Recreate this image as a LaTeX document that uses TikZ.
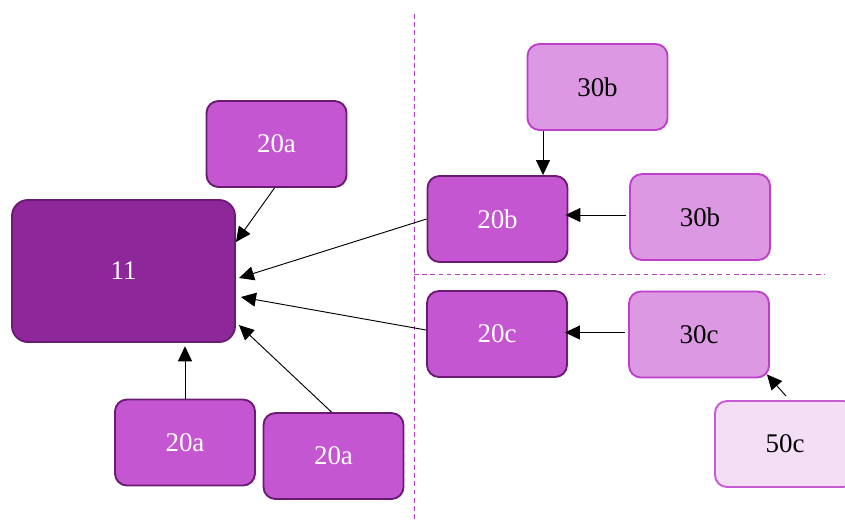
\documentclass[tikz,border=0pt]{standalone}
\usepackage{fontspec}
\setmainfont{Liberation Serif}
\usetikzlibrary{arrows.meta}

\definecolor{fill11}{RGB}{142,39,154}
\definecolor{line11}{RGB}{106,27,115}
\definecolor{fill20}{RGB}{197,86,210}
\definecolor{line20}{RGB}{107,27,116}
\definecolor{fill30}{RGB}{220,152,226}
\definecolor{line30}{RGB}{191,63,203}
\definecolor{fill50}{RGB}{244,222,246}
\definecolor{line50}{RGB}{200,90,211}
\definecolor{sepline}{RGB}{178,63,191}

\tikzset{
  box/.style={draw, line width=1.6pt, rounded corners=0.36cm, minimum width=4.2cm,
    minimum height=2.58cm, font=\fontsize{23}{26}\selectfont},
  lvl11/.style={box, fill=fill11, draw=line11, text=white, minimum width=6.69cm,
    minimum height=4.26cm, rounded corners=0.48cm},
  lvl20/.style={box, fill=fill20, draw=line20, text=white},
  lvl30/.style={box, fill=fill30, draw=line30, text=black},
  lvl50/.style={box, fill=fill50, draw=line50, text=black},
  arr/.style={line width=0.8pt, -{Triangle[length=0.45cm, width=0.42cm]}},
  sep/.style={sepline, line width=0.8pt, dash pattern=on 4pt off 3pt}
}

\begin{document}
\begin{tikzpicture}[x=0.03cm, y=-0.03cm]
	\useasboundingbox (0,0) rectangle (845,526);
	% separators
	\coordinate (vtop) at (414,14);
	\coordinate (vbot) at (414,522);
	\coordinate (hleft) at (414,274);
	\coordinate (hright) at (825,274);
	\draw[sep] (vtop) -- (vbot);
	\draw[sep] (hleft) -- (hright);
	% boxes
	\node[lvl11] (n11) at (123.5,271) {11};
	\node[lvl20] (n20a1) at (276.5,144) {20a};
	\node[lvl20] (n20a2) at (185,442.5) {20a};
	\node[lvl20] (n20a3) at (333.5,456) {20a};
	\node[lvl20] (n20b) at (497.5,219) {20b};
	\node[lvl20] (n20c) at (497,334) {20c};
	\node[lvl30] (n30b1) at (597.5,87) {30b};
	\node[lvl30] (n30b2) at (700,217) {30b};
	\node[lvl30] (n30c) at (699,334.5) {30c};
	\node[lvl50] (n50c) at (785,444) {50c};
	% arrows into 11
	\draw[arr] ([shift={(-2,0)}]n20a1.south) -- ([shift={(0,-29)}]n11.east);
	\draw[arr] (n20b.west) -- ([shift={(3,7)}]n11.east);
	\draw[arr] ([shift={(0,-4)}]n20c.west) -- ([shift={(5,26)}]n11.east);
	\draw[arr] (n20a2.north) -- ([yshift=-0.1cm]n20a2.north |- n11.south);
	\draw[arr] ([shift={(-2,0)}]n20a3.north) -- ([shift={(3,54)}]n11.east);
	% arrows on the right
	\draw[arr] ([shift={(-54.5,0)}]n30b1.south) -- ([shift={(-54.5,0)}]n30b1.south |- n20b.north);
	\draw[arr] ([shift={(-3,-2)}]n30b2.west) -- ([shift={(-3,-2)}]n30b2.west -| n20b.east);
	\draw[arr] ([shift={(-3,-2)}]n30c.west) -- ([shift={(-3,-2)}]n30c.west -| n20c.east);
	\draw[arr] ([shift={(1,-4)}]n50c.north) -- ([shift={(-3,-4)}]n30c.south east);
\end{tikzpicture}
\end{document}
